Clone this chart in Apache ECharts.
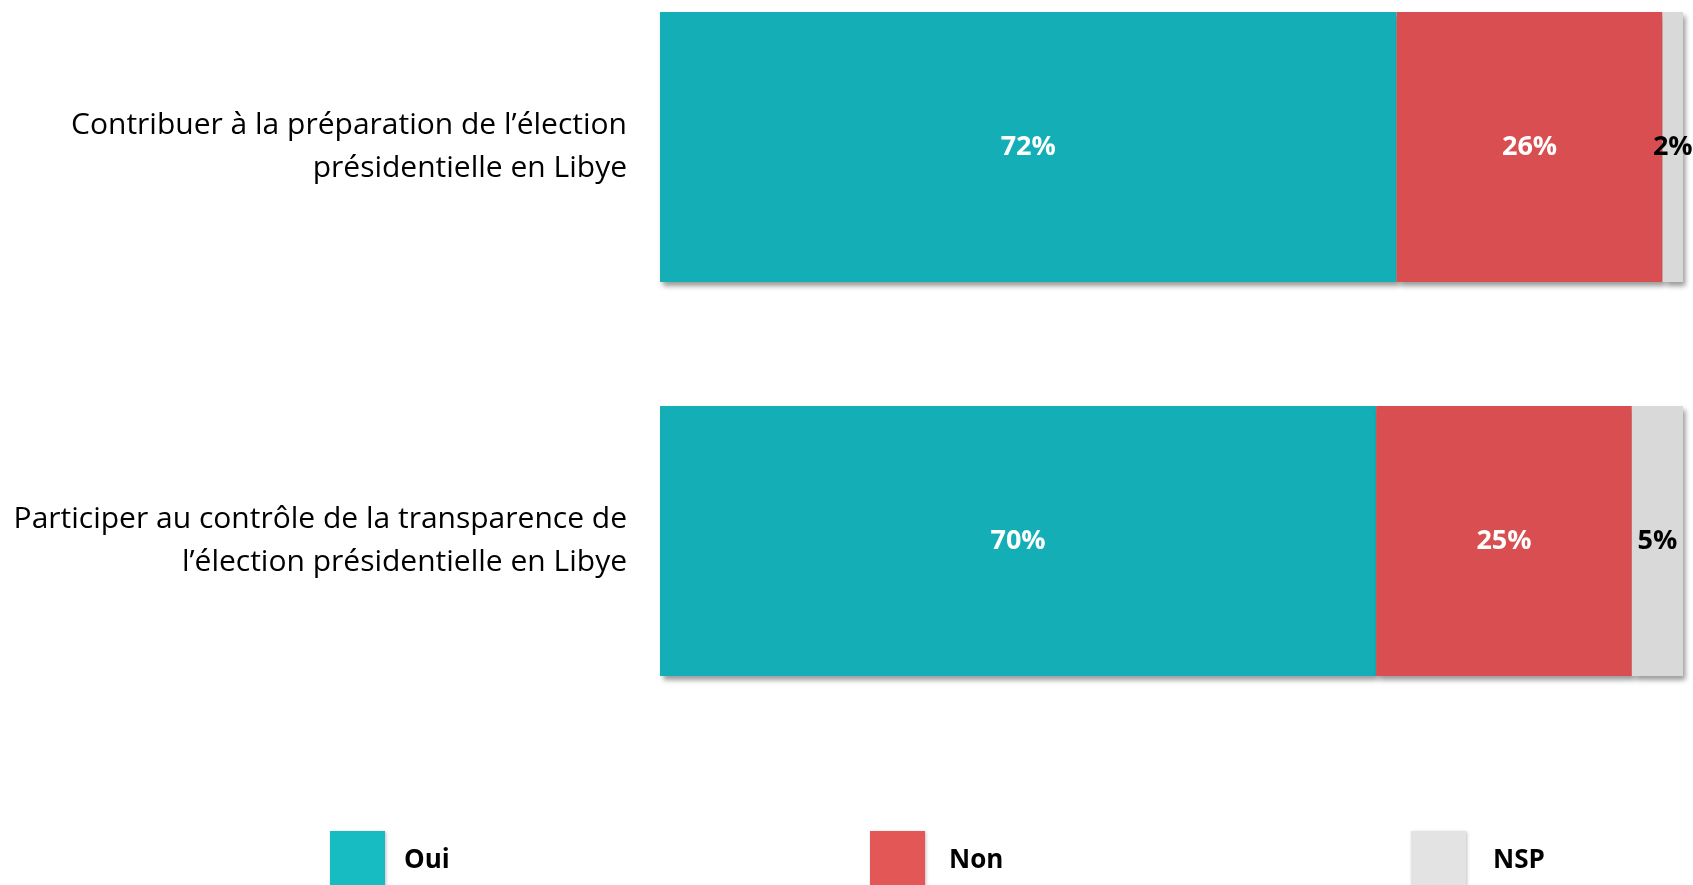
<!DOCTYPE html>
<html>
<head>
<meta charset="utf-8">
<script src="https://cdn.jsdelivr.net/npm/echarts@6/dist/echarts.min.js"></script>
<style>
  html, body { margin: 0; padding: 0; background: #fff; }
  #main { width: 1693px; height: 885px; }
</style>
</head>
<body>
<div id="main"></div>
<script>
const categories = [
  "Contribuer à la préparation de l’élection\nprésidentielle en Libye",
  "Participer au contrôle de la transparence de\nl’élection présidentielle en Libye"
];
const seriesNames = ["Oui", "Non", "NSP"];
const oui = [72, 70];
const non = [26, 25];
const nsp = [2, 5];
const colors = ["#14AEB6", "#D94E50", "#D9D9D9"];
const legendColors = ["#17BCC3", "#E35757", "#E3E3E3"];
const labelColors = ["#ffffff", "#ffffff", "#000000"];

const font = "'Open Sans', 'Noto Sans', sans-serif";
const chart = echarts.init(document.getElementById("main"));

const values = [oui, non, nsp];
const series = seriesNames.map((name, i) => ({
  name: name,
  type: "bar",
  stack: "total",
  barWidth: 270,
  clip: false,
  data: values[i],
  itemStyle: {
    color: colors[i],
    shadowColor: "rgba(0,0,0,0.4)",
    shadowBlur: 5,
    shadowOffsetX: 3,
    shadowOffsetY: 4
  },
  label: {
    show: true,
    position: "inside",
    formatter: "{c}%",
    color: labelColors[i],
    fontFamily: font,
    fontWeight: "bold",
    fontSize: 27
  }
}));

// one legend per item so each can sit at its own spot
const legendLefts = [330, 870, 1411];
const legendTextGaps = [14, 19, 22];
const legends = seriesNames.map((name, i) => ({
  data: [{ name: name, itemStyle: { color: legendColors[i] } }],
  left: legendLefts[i],
  top: 831,
  padding: 0,
  itemWidth: 55,
  itemHeight: 60,
  icon: "rect",
  selectedMode: false,
  itemStyle: {
    shadowColor: "rgba(0,0,0,0.25)",
    shadowBlur: 3,
    shadowOffsetX: 1,
    shadowOffsetY: 1
  },
  textStyle: {
    fontFamily: font,
    fontWeight: "bold",
    fontSize: 26,
    color: "#000",
    padding: [0, 0, 0, legendTextGaps[i]]
  }
}));

// boundaryGap off: category centers sit on the grid edges
const option = {
  animation: false,
  legend: legends,
  grid: { left: 660, right: 10, top: 147, bottom: 344 },
  xAxis: {
    type: "value",
    min: 0,
    max: 100,
    show: false
  },
  yAxis: {
    type: "category",
    inverse: true,
    boundaryGap: false,
    data: categories,
    axisLine: { show: false },
    axisTick: { show: false },
    splitLine: { show: false },
    axisLabel: {
      margin: 33,
      fontFamily: font,
      fontSize: 30,
      lineHeight: 43,
      color: "#000",
      align: "right"
    }
  },
  series: series
};

chart.setOption(option);
</script>
</body>
</html>
